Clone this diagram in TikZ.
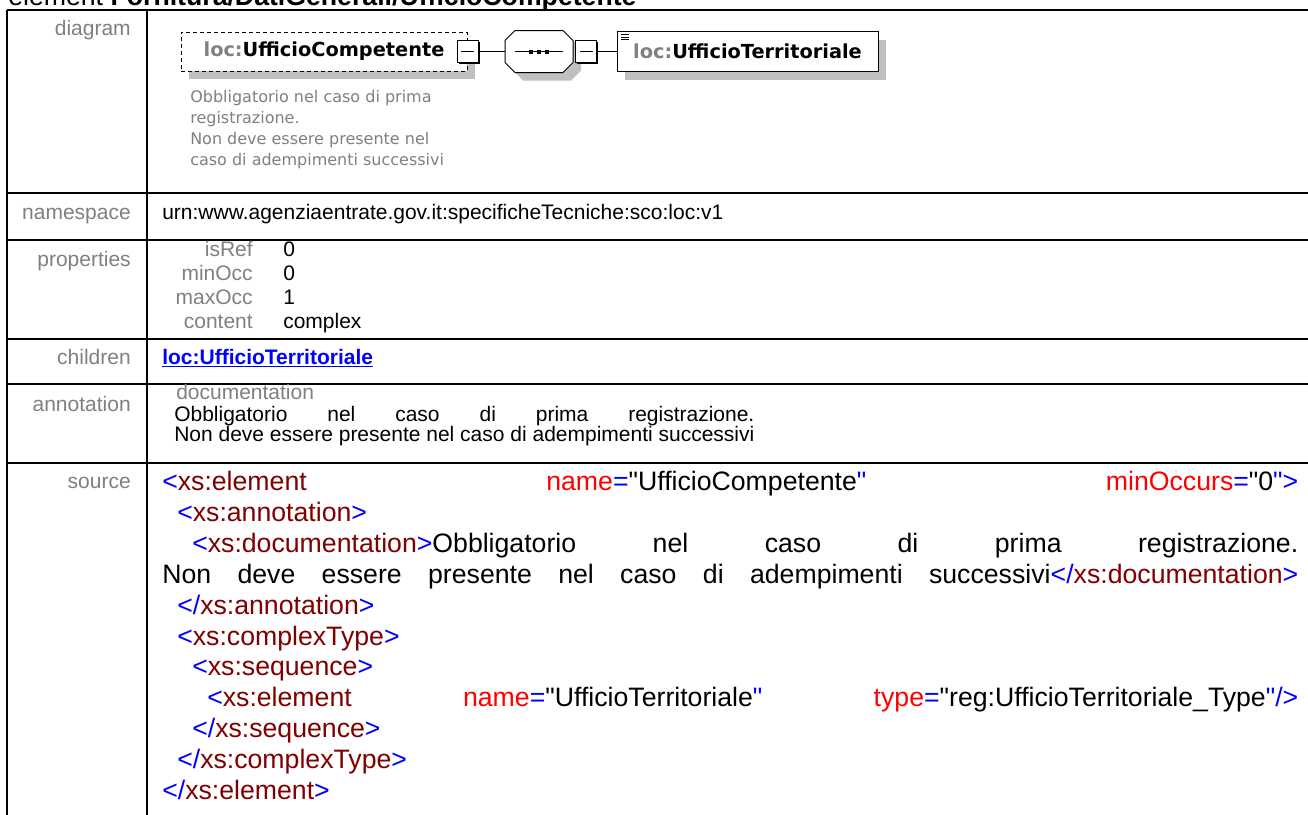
\documentclass[tikz,border=0pt]{standalone}
\usepackage{fontspec}
\setmainfont{Liberation Sans}
\newfontfamily\diafont{DejaVu Sans}
\usetikzlibrary{shadows}

\definecolor{lblgray}{RGB}{128,128,128}
\definecolor{shadegray}{RGB}{192,192,192}
\definecolor{tagred}{RGB}{128,0,0}
\definecolor{attred}{RGB}{255,0,0}
\definecolor{markblue}{RGB}{0,0,255}

% xml source colouring (straight quote glyph, no tex mapping)
\newcommand{\qq}{\XeTeXglyph\XeTeXcharglyph"22\relax}
\newcommand{\xo}[1]{\textcolor{markblue}{<}\textcolor{tagred}{#1}}
\newcommand{\xc}[1]{\textcolor{markblue}{</}\textcolor{tagred}{#1}\textcolor{markblue}{>}}
\newcommand{\xgt}{\textcolor{markblue}{>}}
\newcommand{\xatt}[2]{\textcolor{attred}{#1}\textcolor{markblue}{=}\qq#2\textcolor{markblue}{\qq}}

\newlength{\annwd}
\settowidth{\annwd}{\fontsize{15.75}{18}\selectfont Non deve essere presente nel caso di adempimenti successivi}

\tikzset{
	rule/.style={line width=1.5pt},
	lbl/.style={text=lblgray, inner sep=0, font=\fontsize{15.75}{18}\selectfont},
	txt/.style={inner sep=0, font=\fontsize{15.75}{18}\selectfont},
	src/.style={inner sep=0, anchor=mid west, font=\fontsize{20}{23}\selectfont},
	elbox/.style={draw, fill=white, line width=0.75pt, inner sep=0,
		general shadow={fill=shadegray, shadow xshift=6pt, shadow yshift=-6pt},
		font=\diafont\bfseries\fontsize{14.5}{17}\selectfont},
	optbox/.style={elbox, dash pattern=on 3pt off 2.25pt},
	minusbox/.style={draw, fill=white, line width=0.75pt, inner sep=0,
		minimum width=15.75pt, minimum height=16.5pt,
		general shadow={fill=black, shadow xshift=1.2pt, shadow yshift=-1.2pt},
		path picture={\draw[line width=0.75pt] ([xshift=3pt]path picture bounding box.west)
			-- ([xshift=-3pt]path picture bounding box.east);}},
	seqbox/.style={inner sep=0, minimum width=51pt, minimum height=31.5pt},
}

\begin{document}
\begin{tikzpicture}[x=0.75pt, y=-0.75pt]
	\useasboundingbox (0,0) rectangle (1308,814);
	\clip (0,0) rectangle (1308,814);
	\fill[white] (0,0) rectangle (1308,814);

	% heading, cut at the top
	\node[anchor=base west, inner sep=0, font=\fontsize{20}{23}\selectfont] (title) at (8,5.5)
		{element \textbf{Fornitura/DatiGenerali/UfficioCompetente}};

	% table rules
	\foreach \y in {10, 193, 240, 339, 384, 463}
		\draw[rule] (7,\y) -- (1312,\y);
	\draw[rule] (7,10) -- (7,816);
	\draw[rule] (147,10) -- (147,816);

	% row labels
	\foreach \name/\y in {diagram/32, namespace/216, properties/263, children/361, annotation/408, source/485}
		\node[lbl, anchor=mid east] (l\name) at (131,\y) {\name};

	% diagram
	\node[optbox, minimum width=214.5pt, minimum height=29.25pt] (box1) at (324,51.5)
		{\textcolor{lblgray}{loc:}UfficioCompetente};
	\def\octpath{(-24,-21) -- (24,-21) -- (34,-11) -- (34,11) -- (24,21) -- (-24,21) -- (-34,11) -- (-34,-11) -- cycle}
	\begin{scope}[shift={(539,51.5)}]
		\fill[shadegray, shift={(8,8)}] \octpath;
		\draw[fill=white, line width=0.75pt] \octpath;
		\draw[line width=1pt] (-24,0) -- (24,0);
		\foreach \d in {-8,0,8}
			\fill (\d-2,-2) rectangle (\d+2,2);
	\end{scope}
	\node[seqbox] (seq) at (539,51.5) {};
	\node[minusbox] (sq1) at (467.5,51.5) {};
	\node[minusbox] (sq2) at (586,51.5) {};
	\node[elbox, minimum width=195.75pt, minimum height=30pt,
		path picture={\foreach \t in {2.25,4.1,5.9}
			\draw[line width=0.6pt] ([xshift=3pt,yshift=-\t pt]path picture bounding box.north west) -- ++(6pt,0);}]
		(box2) at (747.5,51.5) {\textcolor{lblgray}{loc:}UfficioTerritoriale};
	\draw[line width=0.75pt] (sq1) -- (seq);
	\draw[line width=0.75pt] (sq2) -- (box2);
	\node[anchor=north west, align=left, inner sep=0, text=lblgray,
		font=\diafont\fontsize{12}{15.75}\selectfont] (note) at (190,90)
		{Obbligatorio nel caso di prima\\registrazione.\\Non deve essere presente nel\\caso di adempimenti successivi};

	% namespace
	\node[txt, anchor=mid west] (ns) at (162,216) {urn:www.agenziaentrate.gov.it:specificheTecniche:sco:loc:v1};

	% properties
	\foreach \k/\nm/\val in {0/isRef/0, 1/minOcc/0, 2/maxOcc/1, 3/content/complex}{
		\node[lbl, anchor=mid east] (pn\k) at (253,253+24*\k) {\nm};
		\node[txt, anchor=mid west] (pv\k) at (283,253+24*\k) {\val};
	}

	% children
	\node[txt, anchor=mid west, text=markblue, font=\fontsize{15.75}{18}\selectfont\bfseries] (child) at (162,361)
		{\underline{loc:UfficioTerritoriale}};

	% annotation
	\node[lbl, anchor=mid west] (doc) at (176,396) {documentation};
	\node[txt, anchor=mid west] (ann1) at (174,418)
		{\hbox to \annwd{Obbligatorio\hfill nel\hfill caso\hfill di\hfill prima\hfill registrazione.}};
	\node[txt, anchor=mid west] (ann2) at (174,438) {Non deve essere presente nel caso di adempimenti successivi};

	% source
	\node[src] (src0) at (162,487)
		{\hbox to 852pt{\xo{xs:element}\hfill\xatt{name}{UfficioCompetente}\hfill\xatt{minOccurs}{0}\xgt}};
	\node[src] (src2) at (192,548.8)
		{\hbox to 829.5pt{\xo{xs:documentation}\xgt Obbligatorio\hfill nel\hfill caso\hfill di\hfill prima\hfill registrazione.}};
	\node[src] (src3) at (162,579.7)
		{\hbox to 852pt{Non\hfill deve\hfill essere\hfill presente\hfill nel\hfill caso\hfill di\hfill adempimenti\hfill successivi\xc{xs:documentation}}};
	\node[src] (src7) at (207,703.3)
		{\hbox to 818.25pt{\xo{xs:element}\hfill\xatt{name}{UfficioTerritoriale}\hfill\xatt{type}{reg:UfficioTerritoriale\_Type}\textcolor{markblue}{/>}}};
	\foreach \k/\ind/\txt in {1/1/{\xo{xs:annotation}\xgt}, 4/1/{\xc{xs:annotation}}, 5/1/{\xo{xs:complexType}\xgt},
			6/2/{\xo{xs:sequence}\xgt}, 8/2/{\xc{xs:sequence}}, 9/1/{\xc{xs:complexType}}, 10/0/{\xc{xs:element}}}
		\node[src] (src\k) at (162+15*\ind,487+30.9*\k) {\txt};
\end{tikzpicture}
\end{document}
